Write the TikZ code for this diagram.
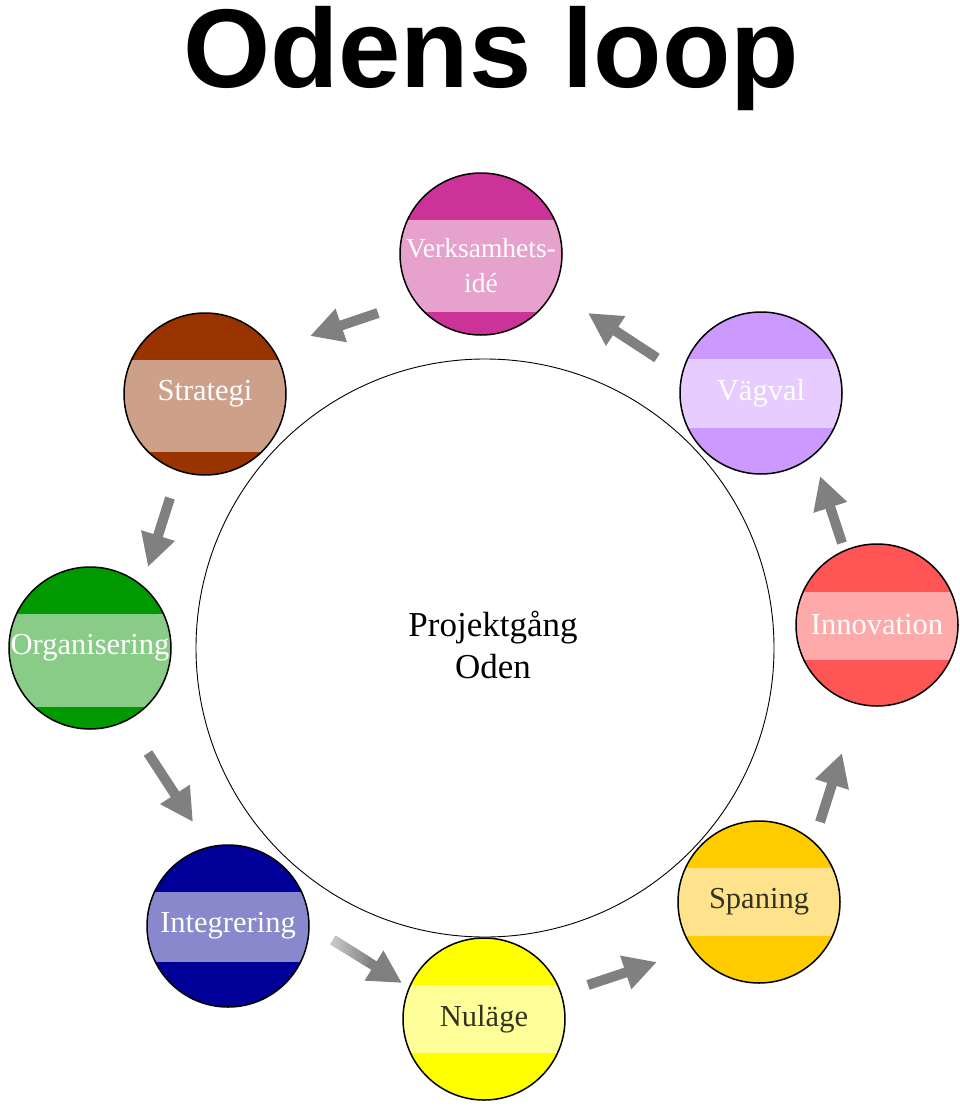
\documentclass[tikz,border=0pt]{standalone}
\usepackage{fontspec}
\setmainfont{Liberation Serif}
\newfontfamily\titlefont{Liberation Sans}
\usetikzlibrary{arrows.meta,calc}
\definecolor{arrowgray}{HTML}{808080}
\definecolor{verksD}{HTML}{CC3399}\definecolor{verksL}{HTML}{E7A1CD}
\definecolor{stratD}{HTML}{993300}\definecolor{stratL}{HTML}{CDA08A}
\definecolor{organD}{HTML}{009900}\definecolor{organL}{HTML}{88CC88}
\definecolor{integD}{HTML}{000099}\definecolor{integL}{HTML}{8888CC}
\definecolor{nulD}{HTML}{FFFF00}\definecolor{nulL}{HTML}{FFFF99}
\definecolor{spanD}{HTML}{FFCC00}\definecolor{spanL}{HTML}{FFE28C}
\definecolor{innoD}{HTML}{FF5555}\definecolor{innoL}{HTML}{FFAAAA}
\definecolor{vagD}{HTML}{CC99FF}\definecolor{vagL}{HTML}{E6CCFF}
\definecolor{darktext}{HTML}{333322}
\newcommand\bubblenode[9]{%
  \node[bubble, fill=#4, path picture={\fill[#5] ($(path picture bounding box.center)+(-100,#6)$) rectangle ($(path picture bounding box.center)+(100,#7)$);}] (#1) at (#2,#3) {};
  \node[bubbletext, #8] (#1-text) at (#1.center) {#9};
}
\begin{document}
\begin{tikzpicture}[x=1pt,y=-1pt,
  bubble/.style={circle, minimum size=162pt, inner sep=0pt, draw=black, line width=1.5pt},
  bubbletext/.style={font=\fontsize{30.5}{35}\selectfont, align=center, inner sep=0pt},
  flow/.style={draw=arrowgray, line width=10pt, -{Triangle[length=33pt,width=33pt]}},
]
\useasboundingbox[fill=white] (0,0) rectangle (960,1108);

\node[font=\titlefont\bfseries\fontsize{112}{120}\selectfont, anchor=base, inner sep=0pt] (title) at (491,88) {Odens loop};

\node[circle, draw=black, line width=0.9pt, minimum size=578pt, inner sep=0pt] (loop) at (485,648) {};
\node[font=\fontsize{35}{42}\selectfont, align=center, inner sep=0pt] (loop-text) at (493,645) {Projektgång\\Oden};

\bubblenode{verks}{481}{254}{verksD}{verksL}{-34}{58}{text=white, yshift=-12pt, font=\fontsize{27.5}{35}\selectfont}{Verksamhets-\\idé}
\bubblenode{strat}{205}{394}{stratD}{stratL}{-34}{58}{text=white}{Strategi}
\bubblenode{organ}{90}{648}{organD}{organL}{-34}{59}{text=white}{Organisering}
\bubblenode{integ}{228}{926}{integD}{integL}{-34}{36}{text=white}{Integrering}
\bubblenode{nul}{484}{1019}{nulD}{nulL}{-34}{34}{text=darktext}{Nuläge}
\bubblenode{span}{759}{902}{spanD}{spanL}{-34}{34}{text=darktext}{Spaning}
\bubblenode{inno}{877}{625}{innoD}{innoL}{-33}{35}{text=white}{Innovation}
\bubblenode{vag}{761}{393}{vagD}{vagL}{-34}{35}{text=white}{Vägval}

\coordinate (a1s) at (657,358); \coordinate (a1e) at (588,313);
\coordinate (a2s) at (378,313); \coordinate (a2e) at (310,336);
\coordinate (a3s) at (170,498); \coordinate (a3e) at (148,567);
\coordinate (a4s) at (148,753); \coordinate (a4e) at (193,822);
\coordinate (a5s) at (333,940); \coordinate (a5e) at (402,983);
\coordinate (a6s) at (588,985); \coordinate (a6e) at (657,962);
\coordinate (a7s) at (820,822); \coordinate (a7e) at (842,753);
\coordinate (a8s) at (842,543); \coordinate (a8e) at (820,476);

\draw[flow] (a1s) -- (a1e);
\draw[flow] (a2s) -- (a2e);
\draw[flow] (a3s) -- (a3e);
\draw[flow] (a4s) -- (a4e);
\draw[flow] (a5s) -- (a5e);
\begin{scope}[shift={(a5s)}, rotate=-31.9]
  \shade[left color=arrowgray!40, right color=arrowgray] (0pt,-5pt) rectangle (42pt,5pt);
\end{scope}
\draw[flow] (a6s) -- (a6e);
\draw[flow] (a7s) -- (a7e);
\draw[flow] (a8s) -- (a8e);
\end{tikzpicture}
\end{document}
